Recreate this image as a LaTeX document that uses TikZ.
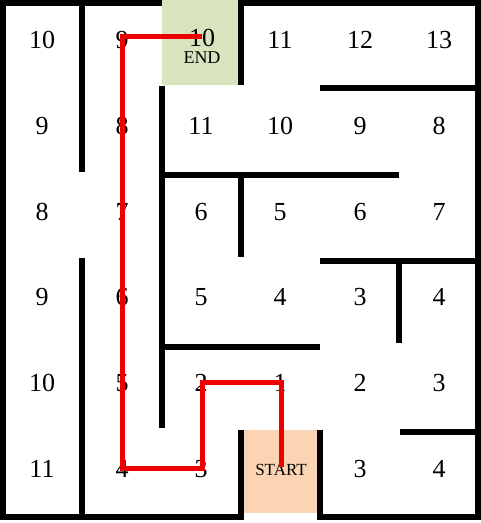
\documentclass[tikz,border=0pt]{standalone}
\usepackage{fontspec}
\setmainfont{Liberation Serif}
\definecolor{endgreen}{HTML}{D7E4BD}
\definecolor{startpeach}{HTML}{FBD4B4}
\definecolor{pathred}{HTML}{EE0000}
\begin{document}
\begin{tikzpicture}[x=1pt,y=-1pt,
  wall/.style={line width=6pt,line join=miter,black},
  num/.style={inner sep=0pt,font=\fontsize{26}{28}\selectfont},
  tag/.style={inner sep=0pt},
  route/.style={line width=5pt,pathred,line join=miter}]
\useasboundingbox (0,0) rectangle (481,523);
% cell fills
\fill[endgreen] (162,0) rectangle (241,85);
\fill[startpeach] (241,430) rectangle (320,513);
% numbers
\foreach \r/\y in {1/40,2/126,3/212,4/297,5/383,6/469}{
  \foreach \c/\x in {1/42,2/122,3/201,4/280,5/360,6/439}{
    \coordinate (g\r\c) at (\x,\y);
  }
}
\node[num] (n11) at (g11) {10};
\node[num] (n12) at (g12) {9};
\node[num] (n13) at (202,37.5) {10};
\node[tag,font=\fontsize{18}{20}\selectfont] (endlbl) at (202,57.5) {END};
\node[num] (n14) at (g14) {11};
\node[num] (n15) at (g15) {12};
\node[num] (n16) at (g16) {13};
\node[num] (n21) at (g21) {9};
\node[num] (n22) at (g22) {8};
\node[num] (n23) at (g23) {11};
\node[num] (n24) at (g24) {10};
\node[num] (n25) at (g25) {9};
\node[num] (n26) at (g26) {8};
\node[num] (n31) at (g31) {8};
\node[num] (n32) at (g32) {7};
\node[num] (n33) at (g33) {6};
\node[num] (n34) at (g34) {5};
\node[num] (n35) at (g35) {6};
\node[num] (n36) at (g36) {7};
\node[num] (n41) at (g41) {9};
\node[num] (n42) at (g42) {6};
\node[num] (n43) at (g43) {5};
\node[num] (n44) at (g44) {4};
\node[num] (n45) at (g45) {3};
\node[num] (n46) at (g46) {4};
\node[num] (n51) at (g51) {10};
\node[num] (n52) at (g52) {5};
\node[num] (n53) at (g53) {2};
\node[num] (n54) at (g54) {1};
\node[num] (n55) at (g55) {2};
\node[num] (n56) at (g56) {3};
\node[num] (n61) at (g61) {11};
\node[num] (n62) at (g62) {4};
\node[num] (n63) at (g63) {3};
\node[tag,font=\fontsize{17}{19}\selectfont] (startlbl) at (281,470) {START};
\node[num] (n65) at (g65) {3};
\node[num] (n66) at (g66) {4};
% outer walls
\draw[wall] (162,3) -- (3,3) -- (3,517) -- (241,517) -- (241,430);
\draw[wall] (320,430) -- (320,517) -- (478,517) -- (478,3) -- (241,3) -- (241,85);
% inner walls
\draw[wall] (82,3) -- (82,172);
\draw[wall] (82,517) -- (82,258);
\draw[wall] (162,86) -- (162,428);
\draw[wall] (162,175) -- (399,175);
\draw[wall] (162,347) -- (320,347);
\draw[wall] (320,88) -- (478,88);
\draw[wall] (241,175) -- (241,257);
\draw[wall] (320,261) -- (478,261);
\draw[wall] (399,261) -- (399,343);
\draw[wall] (400,432) -- (478,432);
% route
\coordinate (r0) at (281,467);
\coordinate (r1) at (281,382);
\coordinate (r2) at (202,382);
\coordinate (r3) at (202,468);
\coordinate (r4) at (122,468);
\coordinate (r5) at (122,36);
\coordinate (r6) at (202,36);
\draw[route] (r0) -- (r1) -- (r2) -- (r3) -- (r4) -- (r5) -- (r6);
\end{tikzpicture}
\end{document}
